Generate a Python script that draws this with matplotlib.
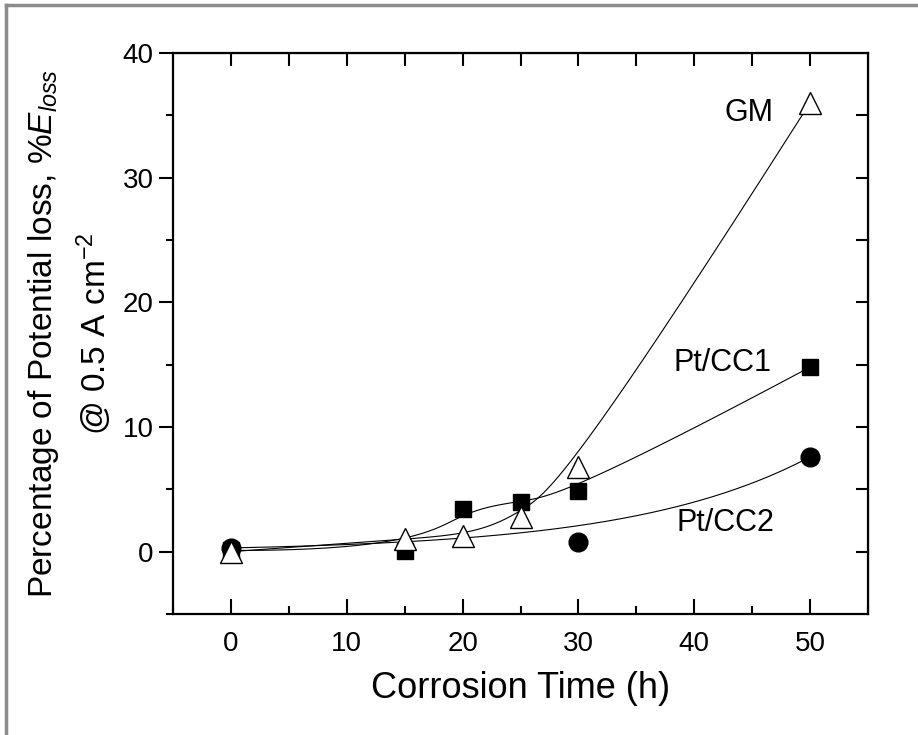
import numpy as np
import matplotlib
matplotlib.use('Agg')
import matplotlib.pyplot as plt
from matplotlib.ticker import MultipleLocator

plt.rcParams['font.family'] = ['Liberation Sans', 'DejaVu Sans']
plt.rcParams['mathtext.fontset'] = 'custom'
plt.rcParams['mathtext.rm'] = 'Liberation Sans'
plt.rcParams['mathtext.it'] = 'Liberation Sans:italic'

# data
time_gm = [0, 15, 20, 25, 30, 50]
loss_gm = [0.0, 1.0, 1.25, 2.8, 6.8, 36.0]

time_cc1 = [0, 15, 20, 25, 30, 50]
loss_cc1 = [0.1, 0.05, 3.45, 3.95, 4.9, 14.8]

time_cc2 = [0, 30, 50]
loss_cc2 = [0.3, 0.8, 7.6]


def bspline(px, py, k=3, n=400):
    # clamped uniform B-spline, data points used as control points
    px = np.asarray(px, float)
    py = np.asarray(py, float)
    m = len(px)
    k = min(k, m - 1)
    knots = np.concatenate([np.zeros(k), np.linspace(0, 1, m - k + 1), np.ones(k)])
    u = np.linspace(0, 1, n)
    u[-1] = 1 - 1e-12
    B = np.zeros((len(knots) - 1, n))
    for i in range(len(knots) - 1):
        B[i] = (u >= knots[i]) & (u < knots[i + 1])
    for d in range(1, k + 1):
        Bn = np.zeros((len(knots) - 1 - d, n))
        for i in range(len(knots) - 1 - d):
            a = knots[i + d] - knots[i]
            b = knots[i + d + 1] - knots[i + 1]
            t1 = (u - knots[i]) / a * B[i] if a > 0 else 0
            t2 = (knots[i + d + 1] - u) / b * B[i + 1] if b > 0 else 0
            Bn[i] = t1 + t2
        B = Bn
    return px @ B, py @ B


# exponential growth through first and last point for Pt/CC2
t_cc2 = np.linspace(time_cc2[0], time_cc2[-1], 300)
tau = (time_cc2[-1] - time_cc2[0]) / np.log(loss_cc2[-1] / loss_cc2[0])
fit_cc2 = loss_cc2[0] * np.exp((t_cc2 - time_cc2[0]) / tau)

fig = plt.figure(figsize=(9.18, 7.35), dpi=100)
ax = fig.add_axes([0.1885, 0.1646, 0.757, 0.7634])

gx, gy = bspline(time_gm, loss_gm)
cx, cy = bspline(time_cc1, loss_cc1)
ax.plot(gx, gy, color='black', lw=0.8)
ax.plot(cx, cy, color='black', lw=0.8)
ax.plot(t_cc2, fit_cc2, color='black', lw=0.8)

ax.plot(time_cc1, loss_cc1, 's', color='black', ms=12, ls='none')
ax.plot(time_cc2, loss_cc2, 'o', color='black', ms=13.5, ls='none')
ax.plot(time_gm, loss_gm, '^', mfc='white', mec='black', mew=1.0, ms=16, ls='none')

ax.text(44.7, 35.2, 'GM', fontsize=22, ha='center', va='center')
ax.text(42.4, 15.1, 'Pt/CC1', fontsize=22, ha='center', va='center')
ax.text(42.7, 2.3, 'Pt/CC2', fontsize=22, ha='center', va='center')

ax.set_xlim(-5, 55)
ax.set_ylim(-5, 40)
ax.xaxis.set_major_locator(MultipleLocator(10))
ax.xaxis.set_minor_locator(MultipleLocator(5))
ax.yaxis.set_major_locator(MultipleLocator(10))
ax.yaxis.set_minor_locator(MultipleLocator(5))

for s in ax.spines.values():
    s.set_linewidth(1.6)

ax.tick_params(axis='x', which='both', direction='in', width=1.5, labelsize=20, pad=12)
ax.tick_params(axis='x', which='major', length=11)
ax.tick_params(axis='x', which='minor', length=6)
ax.tick_params(axis='y', which='both', direction='out', width=1.5, labelsize=20, pad=4)
ax.tick_params(axis='y', which='major', length=10)
ax.tick_params(axis='y', which='minor', length=5)

top = ax.secondary_xaxis('top')
top.set_xticks(np.arange(0, 55, 5))
top.tick_params(direction='in', length=9, width=1.5, labeltop=False)
right = ax.secondary_yaxis('right')
right.set_yticks(np.arange(0, 40, 5))
right.tick_params(direction='in', length=9, width=1.5, labelright=False)

ax.set_xlabel('Corrosion Time (h)', fontsize=26, labelpad=10)
ax.set_ylabel('Percentage of Potential loss, %$\\mathit{E}_{\\mathit{loss}}$\n@ 0.5 A cm$^{-2}$',
              fontsize=24, linespacing=1.45, labelpad=6)

# grey frame on top and left edge
fig.add_artist(plt.Line2D([0.006, 0.006], [0, 0.993], color='#8c8c8c', lw=2.5, transform=fig.transFigure))
fig.add_artist(plt.Line2D([0.006, 1], [0.993, 0.993], color='#8c8c8c', lw=2.5, transform=fig.transFigure))

fig.savefig('out.png', dpi=100)
